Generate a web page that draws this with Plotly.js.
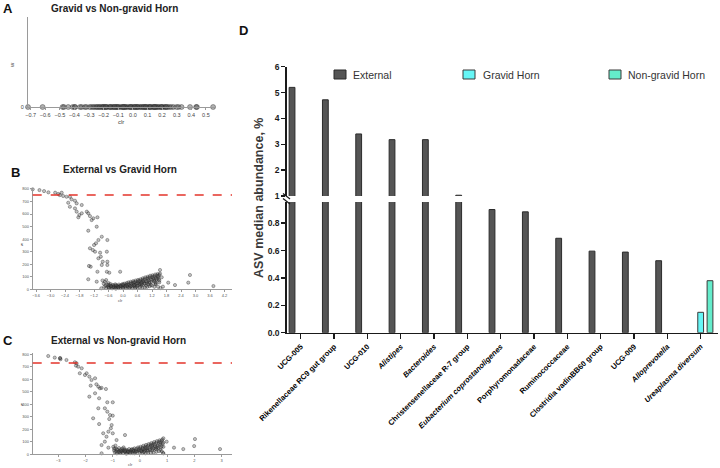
<!DOCTYPE html>
<html>
<head>
<meta charset="utf-8">
<script src="https://cdn.plot.ly/plotly-3.0.1.min.js"></script>
<style>html,body{margin:0;padding:0;background:#fff}#chart{width:720px;height:468px}</style>
</head>
<body>
<div id="chart"></div>
<script>
// ---------- Panel A: Gravid vs Non-gravid Horn (clr, w) ----------
var aClr = [-0.718,-0.618,-0.481,-0.472,-0.443,-0.412,-0.399,-0.395,-0.362,-0.351,-0.329,-0.318,-0.296,-0.284,-0.272,-0.261,-0.249,-0.243,-0.231,-0.226,-0.214,-0.203,-0.196,-0.184,-0.177,-0.163,-0.152,-0.141,-0.133,-0.121,-0.113,-0.102,-0.094,-0.081,-0.072,-0.063,-0.051,-0.044,-0.032,-0.021,-0.012,-0.004,0.008,0.017,0.026,0.034,0.047,0.055,0.063,0.076,0.084,0.093,0.104,0.112,0.121,0.133,0.142,0.151,0.163,0.172,0.181,0.193,0.202,0.214,0.223,0.236,0.248,0.262,0.277,0.299,0.312,0.333,0.391,0.433,0.438,0.549,
  -0.205,-0.154,-0.108,-0.057,-0.015,0.031,0.072,0.118,0.157,0.196,-0.187,-0.126,-0.067,0.012,0.088,0.146,0.228];
var aW   = [0,0,0,0,0,0,0,0,0,0,0,0,0,0,0,0,0,0,0,0,0,0,0,0,0,0,0,0,0,0,0,0,0,0,0,0,0,0,0,0,0,0,0,0,0,0,0,0,0,0,0,0,0,0,0,0,0,0,0,0,0,0,0,0,0,0,0,0,0,0,0,0,0,0,0,0,
  0,0,0,0,0,0,0,0,0,0,0,0,0,0,0,0,0];

// ---------- Panel B: External vs Gravid Horn ----------
var bClr = [-3.74,-3.46,-3.27,-3.09,-2.81,-2.68,-2.54,-2.62,-2.48,-2.34,-2.20,-2.13,-2.27,-1.99,-1.92,-2.20,-1.71,-1.99,-1.92,-1.81,-1.85,-1.71,-1.50,-1.44,-1.37,-1.23,-1.30,-1.06,-1.09,-1.44,-0.88,-1.02,-0.65,-1.12,-1.20,-1.37,-1.25,-1.16,-0.95,-0.67,-0.92,-1.02,-0.84,-0.65,-0.88,-1.41,-1.34,-0.65,-1.06,-0.67,-0.57,-0.12,-1.44,-1.09,-0.70,
  1.53,1.60,1.87,2.15,2.77,2.70,3.74,4.55,1.65,
  -0.80,-0.78,-0.75,-0.72,-0.70,-0.66,-0.62,-0.60,-0.58,-0.55,-0.52,-0.50,-0.47,-0.45,-0.42,-0.40,-0.37,-0.35,-0.32,-0.30,-0.27,-0.25,-0.22,-0.20,-0.17,-0.15,-0.12,-0.10,-0.07,-0.05,-0.02,0.00,0.03,0.05,0.08,0.10,0.12,0.15,0.18,0.20,0.22,0.25,0.27,0.30,0.32,0.35,0.38,0.40,0.42,0.45,0.48,0.50,0.52,0.55,0.58,0.60,0.62,0.65,0.68,0.70,0.72,0.75,0.78,0.80,0.82,0.85,0.88,0.90,0.92,0.95,0.98,1.00,1.02,1.05,1.08,1.10,1.12,1.15,1.18,1.20,1.22,1.25,1.28,1.30,1.33,1.35,1.38,1.40,1.43,1.45,1.48,1.50,1.53,1.35,1.20,1.00,0.80,0.60,0.40,1.45,1.50,-0.90,-0.85,1.55,
  -0.60,-0.50,-0.40,-0.30,-0.20,-0.10,0.00,0.10,0.20,0.30,0.35,0.45,0.50,0.55,0.60,0.65,0.70,0.75,0.80,0.85,0.90,0.95,1.00,1.05,1.10,1.15,1.20,1.25,1.30,1.35,1.40,1.45,1.50,0.70,0.90,1.10,1.30,0.50,0.25,0.00,-0.30,-0.60,0.15,0.45,0.75,1.05,1.35];
var bW = [797,791,783,773,770,760,770,751,744,738,738,717,690,706,685,658,672,645,619,592,574,606,619,606,584,566,552,574,499,467,419,393,393,367,353,327,313,300,292,300,260,247,220,220,194,186,180,194,140,140,132,140,80,61,74,
  154,96,53,34,114,53,26,606,21,
  45,20,60,30,10,38,22,50,15,30,42,18,25,8,35,20,28,12,40,22,15,30,25,10,38,20,28,14,35,22,42,18,30,45,25,12,38,50,28,20,55,35,15,48,60,30,22,52,65,40,25,58,70,45,30,62,75,50,35,68,80,55,40,75,88,60,45,82,95,65,50,88,100,72,55,95,108,80,60,100,112,85,70,105,118,90,75,110,122,95,80,115,125,40,30,20,15,12,10,20,55,8,70,10,
  35,28,15,32,18,26,35,22,40,25,45,55,35,20,48,65,40,28,58,72,45,30,62,85,50,35,75,95,60,45,85,105,70,18,15,25,20,12,10,8,5,12,32,30,45,40,55];

// ---------- Panel C: External vs Non-gravid Horn ----------
var cClr = [-3.37,-3.13,-2.94,-2.92,-2.93,-2.70,-2.39,-2.33,-2.35,-2.27,-2.14,-2.21,-1.96,-1.86,-2.02,-1.78,-1.65,-1.81,-1.60,-1.53,-1.47,-1.41,-1.25,-1.86,-1.65,-1.50,-1.20,-1.00,-1.53,-1.29,-1.20,-1.10,-1.00,-1.72,-1.13,-1.50,-1.04,-1.07,-1.16,-1.35,-1.00,-1.23,-0.55,-1.41,-1.16,-1.41,-1.29,-0.86,
  0.86,0.98,1.25,1.59,2.02,1.99,2.94,3.39,0.86,
  -0.98,-0.95,-0.92,-0.90,-0.87,-0.85,-0.82,-0.80,-0.77,-0.75,-0.72,-0.70,-0.67,-0.65,-0.62,-0.60,-0.57,-0.55,-0.52,-0.50,-0.47,-0.45,-0.42,-0.40,-0.37,-0.35,-0.32,-0.30,-0.27,-0.25,-0.22,-0.20,-0.17,-0.15,-0.12,-0.10,-0.07,-0.05,-0.02,0.00,0.02,0.05,0.07,0.10,0.12,0.15,0.17,0.20,0.22,0.25,0.27,0.30,0.32,0.35,0.37,0.40,0.42,0.45,0.47,0.50,0.52,0.55,0.57,0.60,0.62,0.65,0.67,0.70,0.72,0.75,0.77,0.80,0.82,0.84,0.86,0.60,0.40,0.20,0.80,0.85,-0.60,-0.90,
  -0.85,-0.75,-0.65,-0.55,-0.45,-0.35,-0.25,-0.15,-0.05,0.05,0.10,0.15,0.20,0.25,0.30,0.35,0.40,0.45,0.50,0.55,0.60,0.65,0.70,0.75,0.80,0.85,0.30,0.50,0.70,0.10,-0.20,-0.50,0.60,0.75,0.45,0.20,0.00,-0.30,-0.70,-0.95];
var cW = [786,773,768,760,770,754,736,728,709,701,688,648,648,621,634,594,608,549,560,541,528,531,522,461,488,448,416,416,368,368,341,314,309,288,282,242,234,208,181,168,168,141,154,74,53,8,101,114,
  128,101,53,42,122,66,42,789,8,
  60,30,15,45,22,8,35,18,50,25,12,38,20,30,10,28,40,18,25,35,12,30,20,42,15,28,36,22,10,40,25,48,18,32,45,22,55,30,15,48,60,35,22,55,68,40,28,62,75,45,30,70,82,55,35,78,90,60,40,85,98,65,45,92,105,70,50,100,112,78,55,108,118,85,60,20,12,8,25,10,55,70,
  40,18,45,28,20,10,30,22,40,25,45,18,35,58,28,42,65,30,50,80,40,60,85,35,65,95,12,15,25,10,8,5,55,95,72,50,30,40,28,45];

// threshold lines (w) for B and C
var bCut = 752;
var cCut = 730;

// ---------- Panel D: ASV median abundance ----------
var taxa = ["UCG-005","Rikenellaceae RC9 gut group","UCG-010","Alistipes","Bacteroides","Christensenellaceae R-7 group","Eubacterium coprostanoligenes","Porphyromonadaceae","Ruminococcaceae","Clostridia vadinBB60 group","UCG-009","Alloprevotella","Ureaplasma diversum"];
var taxaLabels = ["UCG-005","Rikenellaceae RC9 gut group","UCG-010","<i>Alistipes</i>","<i>Bacteroides</i>","Christensenellaceae R-7 group","<i>Eubacterium coprostanoligenes</i>","Porphyromonadaceae","Ruminococcaceae","Clostridia vadinBB60 group","UCG-009","<i>Alloprevotella</i>","<i>Ureaplasma diversum</i>"];
var external   = [5.2,4.72,3.4,3.18,3.18,1.03,0.9,0.883,0.69,0.596,0.589,0.526,null];
var gravid     = [null,null,null,null,null,null,null,null,null,null,null,null,0.149];
var nonGravid  = [null,null,null,null,null,null,null,null,null,null,null,null,0.38];
var seriesNames = ["External","Gravid Horn","Non-gravid Horn"];

var FONT = "Liberation Sans, Arial, sans-serif";
var ptMarker = function(sz, a){ return {symbol:"circle", size:sz, color:"rgba(80,80,80,"+a+")", line:{color:"rgba(30,30,30,0.6)", width:0.6}}; };

var traces = [
  {type:"scatter", mode:"markers", x:aClr, y:aW, xaxis:"x", yaxis:"y", marker:ptMarker(5, 0.45), cliponaxis:false, showlegend:false, hoverinfo:"skip"},
  {type:"scatter", mode:"markers", x:bClr, y:bW, xaxis:"x2", yaxis:"y2", marker:ptMarker(3.2, 0.35), cliponaxis:false, showlegend:false, hoverinfo:"skip"},
  {type:"scatter", mode:"markers", x:cClr, y:cW, xaxis:"x3", yaxis:"y3", marker:ptMarker(3.2, 0.35), cliponaxis:false, showlegend:false, hoverinfo:"skip"}
];

var W = 0.174;
var groups = [
  {name:seriesNames[0], vals:external, color:"#555555", line:"#2b2b2b", off:-0.347, lx:334, tx:351},
  {name:seriesNames[1], vals:gravid, color:"#66f6f6", line:"#3a3a3a", off:-0.087, lx:463, tx:481},
  {name:seriesNames[2], vals:nonGravid, color:"#64eccb", line:"#3a3a3a", off:0.193, lx:609, tx:626}
];
groups.forEach(function(g){
  traces.push({type:"bar", name:g.name, x:taxa, y:g.vals, xaxis:"x4", yaxis:"y4", width:W, offset:g.off,
    marker:{color:g.color, line:{color:g.line, width:1}}, showlegend:false, hoverinfo:"skip"});
  traces.push({type:"bar", name:g.name, x:taxa, y:g.vals, xaxis:"x4", yaxis:"y5", width:W, offset:g.off,
    marker:{color:g.color, line:{color:g.line, width:1}}, showlegend:false, hoverinfo:"skip"});
});

function py(p){ return 1 - p/468; }
function px(p){ return p/720; }

var smallAxis = {showgrid:false, zeroline:false, showline:true, linecolor:"#9a9a9a", linewidth:1, ticks:"outside", ticklen:2, tickcolor:"#9a9a9a", tickfont:{family:FONT, size:4, color:"#555"}};

var shapes = [
  {type:"line", xref:"x2 domain", x0:0, x1:1, yref:"y2", y0:bCut, y1:bCut, line:{color:"#e3342b", width:1.3, dash:"dash"}},
  {type:"line", xref:"x3 domain", x0:0, x1:1, yref:"y3", y0:cCut, y1:cCut, line:{color:"#e3342b", width:1.3, dash:"dash"}},
  {type:"line", xref:"paper", yref:"paper", x0:px(283), x1:px(290), y0:py(193.5), y1:py(199), line:{color:"#1a1a1a", width:1.2}},
  {type:"line", xref:"paper", yref:"paper", x0:px(283), x1:px(290), y0:py(198.5), y1:py(204), line:{color:"#1a1a1a", width:1.2}}
];
function ann(text, x, y, size, color, extra){
  var a = {text:text, x:px(x), y:py(y), xref:"paper", yref:"paper", xanchor:"center", yanchor:"middle", showarrow:false,
           font:{family:FONT, size:size, color:color}};
  return Object.assign(a, extra || {});
}
var annotations = [
  ann("<b>A</b>", 8, 8, 13, "#111"),
  ann("<b>Gravid vs Non-gravid Horn</b>", 114, 8, 10, "#222"),
  ann("w", 12, 65, 6, "#444", {textangle:-90}),
  ann("clr", 121, 122, 6, "#444"),

  ann("<b>B</b>", 15, 172, 13, "#111"),
  ann("<b>External vs Gravid Horn</b>", 120, 169, 10, "#222"),
  ann("w", 21, 245, 4, "#444", {textangle:-90}),
  ann("clr", 120, 300, 4, "#444"),

  ann("<b>C</b>", 8, 340, 13, "#111"),
  ann("<b>External vs Non-gravid Horn</b>", 118, 340, 10, "#222"),
  ann("w", 21, 405, 4, "#444", {textangle:-90}),
  ann("clr", 130, 464, 4, "#444"),

  ann("<b>D</b>", 243, 31, 13, "#111"),
  ann("<b>ASV median abundance, %</b>", 259, 198, 12.5, "#3a3a3a", {textangle:-90})
];
// legend drawn from the series names and colours
groups.forEach(function(g){
  shapes.push({type:"rect", xref:"paper", yref:"paper", x0:px(g.lx), x1:px(g.lx+12), y0:py(79), y1:py(70), fillcolor:g.color, line:{color:g.line, width:1}});
  annotations.push(ann(g.name, g.tx, 74.5, 10.5, "#333", {xanchor:"left"}));
});

var layout = {
  width:720, height:468, margin:{l:0,r:0,t:0,b:0}, paper_bgcolor:"#fff", plot_bgcolor:"rgba(0,0,0,0)",
  barmode:"overlay", showlegend:false,
  font:{family:FONT, color:"#222"},
  xaxis: Object.assign({}, smallAxis, {domain:[px(28),px(215)], range:[-0.718,0.562], anchor:"y", tickmode:"linear", tick0:0, dtick:0.1, tickformat:".1f", tickfont:{family:FONT,size:5.5,color:"#444"}}),
  yaxis: Object.assign({}, smallAxis, {domain:[py(107),py(17)], range:[0,1], anchor:"x", tickvals:[0], ticktext:["0"], tickfont:{family:FONT,size:5.5,color:"#444"}}),
  xaxis2: Object.assign({}, smallAxis, {domain:[px(32.7),px(232)], range:[-3.74,4.51], anchor:"y2", tickmode:"linear", tick0:0, dtick:0.6, tickformat:".1f"}),
  yaxis2: Object.assign({}, smallAxis, {domain:[py(289.3),py(187.7)], range:[0,810], anchor:"x2", tickmode:"linear", tick0:0, dtick:100}),
  xaxis3: Object.assign({}, smallAxis, {domain:[px(32.7),px(232)], range:[-3.94,3.38], anchor:"y3", tickmode:"linear", tick0:0, dtick:1}),
  yaxis3: Object.assign({}, smallAxis, {domain:[py(454.3),py(353)], range:[0,810], anchor:"x3", tickmode:"linear", tick0:0, dtick:100}),
  xaxis4: {domain:[px(286.7),px(718)], range:[-0.42,12.52], anchor:"y4", type:"category", showgrid:false, zeroline:false, showline:true, linecolor:"#1a1a1a", linewidth:1.5,
    ticks:"outside", ticklen:5, tickwidth:1.5, tickcolor:"#1a1a1a", tickangle:-45, tickvals:taxa, ticktext:taxaLabels,
    tickfont:{family:FONT, size:7.6, color:"#000000", weight:"bold"}},
  yaxis4: {domain:[py(332.7),py(202)], range:[0,0.955], anchor:"x4", showgrid:false, zeroline:false, showline:true, linecolor:"#1a1a1a", linewidth:1.5,
    ticks:"outside", ticklen:4, tickwidth:1.5, tickcolor:"#1a1a1a", tickvals:[0,0.2,0.4,0.6,0.8], ticktext:["0.0","0.2","0.4","0.6","0.8"],
    tickfont:{family:FONT, size:8.5, color:"#1a1a1a", weight:"bold"}},
  yaxis5: {domain:[py(196),py(66.7)], range:[1,6], anchor:"x4", showgrid:false, zeroline:false, showline:true, linecolor:"#1a1a1a", linewidth:1.5,
    ticks:"outside", ticklen:4, tickwidth:1.5, tickcolor:"#1a1a1a", tickvals:[1,2,3,4,5,6],
    tickfont:{family:FONT, size:8.5, color:"#1a1a1a", weight:"bold"}},
  shapes:shapes,
  annotations:annotations
};

Plotly.newPlot("chart", traces, layout, {displayModeBar:false, staticPlot:true});
</script>
</body>
</html>
